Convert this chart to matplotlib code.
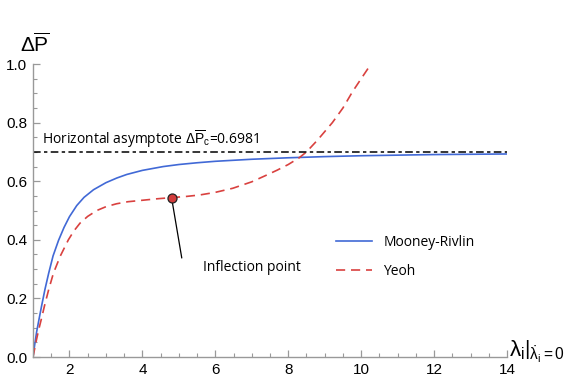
import matplotlib
matplotlib.use("Agg")
import matplotlib.pyplot as plt
from matplotlib.ticker import MultipleLocator

plt.rcParams['font.family'] = ['Liberation Sans', 'DejaVu Sans']
plt.rcParams['mathtext.fontset'] = 'custom'
plt.rcParams['mathtext.rm'] = 'Liberation Sans'
plt.rcParams['mathtext.it'] = 'Liberation Sans'
plt.rcParams['mathtext.bf'] = 'Liberation Sans:bold'

# Data
mr_x = [1.0, 1.05, 1.1, 1.17, 1.24, 1.33, 1.43, 1.55, 1.7, 1.85, 2.0, 2.2, 2.4, 2.66,
        3.0, 3.3, 3.57, 4.0, 4.57, 5.0, 5.5, 6.0, 7.0, 8.0, 9.0, 10.0, 12.0, 14.0]
mr_y = [0.0, 0.045, 0.086, 0.132, 0.177, 0.232, 0.286, 0.345, 0.398, 0.442, 0.479, 0.517, 0.545, 0.571,
        0.595, 0.611, 0.623, 0.637, 0.650, 0.657, 0.663, 0.668, 0.675, 0.680, 0.684, 0.687, 0.691, 0.693]

yeoh_x = [1.0, 1.08, 1.15, 1.23, 1.31, 1.43, 1.56, 1.75, 1.97, 2.12, 2.29, 2.5, 2.75, 3.0,
          3.29, 3.6, 4.0, 4.4, 4.8, 5.2, 5.57, 6.0, 6.48, 7.0, 7.39, 7.7, 8.0, 8.3, 8.5,
          8.8, 9.21, 9.5, 9.76, 10.0, 10.27]
yeoh_y = [0.0, 0.05, 0.09, 0.13, 0.172, 0.23, 0.286, 0.345, 0.40, 0.43, 0.457, 0.48, 0.50, 0.513,
          0.523, 0.53, 0.535, 0.54, 0.544, 0.548, 0.553, 0.562, 0.576, 0.598, 0.62, 0.638, 0.657, 0.68, 0.70,
          0.74, 0.80, 0.85, 0.905, 0.95, 1.0]

asymptote = 0.6981
inflection = (4.8, 0.544)

x_ticks = [2, 4, 6, 8, 10, 12, 14]
y_ticks = [0.0, 0.2, 0.4, 0.6, 0.8, 1.0]

fig = plt.figure(figsize=(5.66, 3.80), dpi=100)
ax = fig.add_axes([0.0583, 0.0605, 0.8375, 0.771])

blue = '#4169d6'
red = '#d9413f'

ax.plot(mr_x, mr_y, color=blue, lw=1.2, label='Mooney-Rivlin', solid_joinstyle='round')
ax.plot(yeoh_x, yeoh_y, color=red, lw=1.2, ls=(0, (5.5, 3.5)), label='Yeoh')
ax.axhline(asymptote, color='black', lw=1.1, ls=(0, (5, 2.2, 2.2, 2.2)))

ax.plot([inflection[0]], [inflection[1]], 'o', ms=6.5, mfc='#d23c3c', mec='#222222', mew=0.9, zorder=5)
ax.annotate('', xy=inflection, xytext=(5.08, 0.338),
            arrowprops=dict(arrowstyle='-', color='black', lw=0.9, shrinkA=0, shrinkB=3))
ax.text(5.65, 0.307, 'Inflection point',
        fontsize=10, family=['Open Sans', 'DejaVu Sans'], va='center', ha='left')

ax.text(1.25, 0.742, r'Horizontal asymptote $\Delta\overline{\mathrm{P}}_{\mathrm{c}}$=0.6981',
        fontsize=10, family=['Open Sans', 'DejaVu Sans'], va='center', ha='left')

ax.set_xlim(1, 14)
ax.set_ylim(0, 1.0)
ax.set_xticks(x_ticks)
ax.set_yticks(y_ticks)
ax.set_yticklabels([f'{v:.1f}' for v in y_ticks])
ax.xaxis.set_minor_locator(MultipleLocator(0.5))
ax.yaxis.set_minor_locator(MultipleLocator(0.05))

for side in ['top', 'right']:
    ax.spines[side].set_visible(False)
for side in ['left', 'bottom']:
    ax.spines[side].set_color('#999999')
    ax.spines[side].set_linewidth(1.0)
ax.tick_params(which='major', direction='in', length=5, width=0.9, color='#999999',
               labelsize=11, pad=4)
ax.tick_params(which='minor', direction='in', length=3, width=0.8, color='#999999')

leg = ax.legend(loc='upper left', bbox_to_anchor=(0.613, 0.459), frameon=False,
                handlelength=2.6, labelspacing=1.0,
                prop={'family': ['Open Sans', 'DejaVu Sans'], 'size': 10})

fig.text(0.035, 0.885, r'$\Delta\overline{\mathrm{P}}$', fontsize=15, ha='left', va='center')
fig.text(0.9, 0.075, r'$\left.\lambda_{\mathrm{i}}\right|_{\dot{\lambda}_{\mathrm{i}}=0}$',
         fontsize=16, ha='left', va='center')

fig.savefig('out.png', dpi=100)
